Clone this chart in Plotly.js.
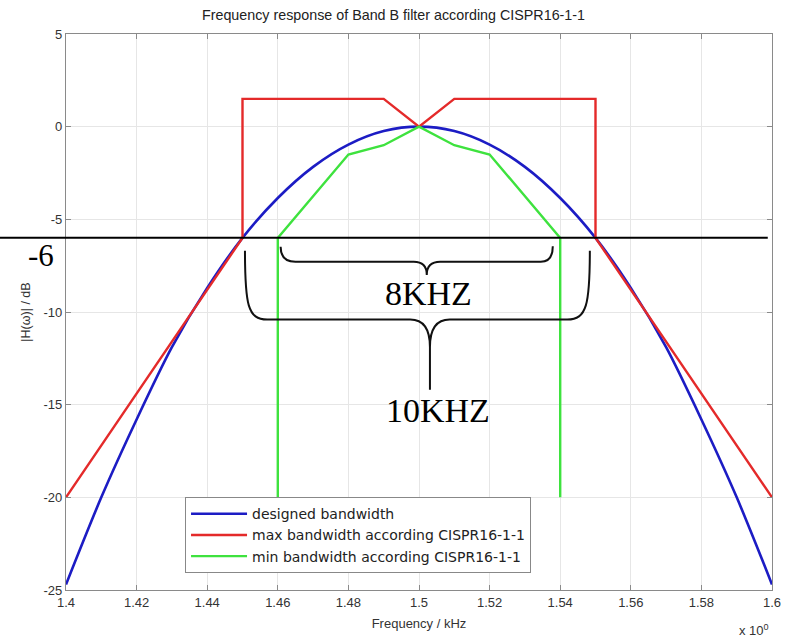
<!DOCTYPE html>
<html>
<head>
<meta charset="utf-8">
<script src="https://cdn.plot.ly/plotly-3.0.1.min.js"></script>
<style>html,body{margin:0;padding:0;background:#fff;}#chart{width:787px;height:639px;}</style>
</head>
<body>
<div id="chart"></div>
<script>
// Designed bandwidth (blue)
const freqDesigned = [1.40,1.41,1.42,1.43,1.44,1.45,1.46,1.47,1.48,1.49,1.50,1.51,1.52,1.53,1.54,1.55,1.56,1.57,1.58,1.59,1.60];
const gainDesigned = [-24.7,-20.0,-15.8,-11.9,-8.7,-6.0,-3.85,-2.17,-0.97,-0.24,0,-0.24,-0.97,-2.17,-3.85,-6.0,-8.7,-11.9,-15.8,-20.0,-24.7];
// Max bandwidth (red)
const freqMax = [1.40,1.45,1.45,1.49,1.50,1.51,1.55,1.55,1.60];
const gainMax = [-20,-6,1.5,1.5,0,1.5,1.5,-6,-20];
// Min bandwidth (green)
const freqMin = [1.46,1.46,1.48,1.49,1.50,1.51,1.52,1.54,1.54];
const gainMin = [-20,-6,-1.5,-1.0,0,-1.0,-1.5,-6,-20];

const seriesNames = ['designed bandwidth','max bandwidth according CISPR16-1-1','min bandwidth according CISPR16-1-1'];
const xTicks = [1.4,1.42,1.44,1.46,1.48,1.5,1.52,1.54,1.56,1.58,1.6];
const xTickText = ['1.4','1.42','1.44','1.46','1.48','1.5','1.52','1.54','1.56','1.58','1.6'];
const yTicks = [-25,-20,-15,-10,-5,0,5];
const yTickText = ['-25','-20','-15','-10','-5','0','5'];
const refLevel = -6;

const traces = [
  {x:freqDesigned,y:gainDesigned,name:seriesNames[0],mode:'lines',line:{color:'#1c1cc4',width:2.6,shape:'spline',smoothing:0.8}},
  {x:freqMax,y:gainMax,name:seriesNames[1],mode:'lines',line:{color:'#e42a2a',width:2.4}},
  {x:freqMin,y:gainMin,name:seriesNames[2],mode:'lines',line:{color:'#3ee23e',width:2.4}}
];

const axisCommon = {showline:true,linecolor:'#8a8a8a',linewidth:1.2,mirror:'ticks',ticks:'inside',ticklen:5,tickcolor:'#8a8a8a',
  showgrid:true,gridcolor:'#e6e6e6',gridwidth:1,zeroline:false,tickfont:{family:'Liberation Sans, Arial',size:13,color:'#333'}};

const layout = {
  width:787,height:639,
  margin:{l:66,r:15,t:34,b:49},
  paper_bgcolor:'#fff',plot_bgcolor:'#fff',
  title:{text:'Frequency response of Band B filter according CISPR16-1-1',font:{family:'Liberation Sans, Arial',size:14.3,color:'#222'},x:0.5,xanchor:'center',y:0.977,yanchor:'middle'},
  xaxis:Object.assign({},axisCommon,{range:[1.4,1.6],tickmode:'array',tickvals:xTicks,ticktext:xTickText,
    title:{text:'Frequency / kHz',font:{family:'Liberation Sans, Arial',size:13,color:'#333'},standoff:10}}),
  yaxis:Object.assign({},axisCommon,{range:[-25,5],tickmode:'array',tickvals:yTicks,ticktext:yTickText,
    title:{text:'|H(ω)| / dB',font:{family:'Liberation Sans, Arial',size:12.5,color:'#333'},standoff:10}}),
  showlegend:true,
  legend:{x:0.1686,y:0.167,xanchor:'left',yanchor:'top',bgcolor:'#fff',bordercolor:'#888',borderwidth:1,
    font:{family:'DejaVu Sans, Liberation Sans',size:14,color:'#222'},tracegroupgap:0,itemwidth:56},
  shapes:[
    {type:'line',xref:'paper',yref:'y',x0:-0.0935,x1:0.994,y0:refLevel,y1:refLevel,line:{color:'#000',width:2},layer:'above'},
    {type:'path',xref:'x',yref:'y',layer:'above',line:{color:'#111',width:2},
     path:'M 1.4608,-6.48 Q 1.4608,-7.29 1.4650,-7.29 L 1.4985,-7.29 Q 1.5022,-7.29 1.5022,-8.0 Q 1.5022,-7.29 1.5060,-7.29 L 1.5345,-7.29 Q 1.5379,-7.29 1.5379,-6.45'},
    {type:'path',xref:'x',yref:'y',layer:'above',line:{color:'#111',width:2},
     path:'M 1.4507,-6.7 C 1.4507,-9.6 1.4515,-10.41 1.4570,-10.41 L 1.4975,-10.41 Q 1.5031,-10.41 1.5031,-11.9 L 1.5031,-14.2 M 1.5031,-11.9 Q 1.5031,-10.41 1.5087,-10.41 L 1.5420,-10.41 C 1.5475,-10.41 1.5484,-9.6 1.5484,-6.7'}
  ],
  annotations:[
    {xref:'paper',yref:'y',x:-0.056,y:-6.95,text:'-6',showarrow:false,font:{family:'Liberation Serif, Times New Roman',size:31,color:'#000'}},
    {xref:'x',yref:'y',x:1.5028,y:-9.0,text:'8KHZ',showarrow:false,font:{family:'Liberation Serif, Times New Roman',size:34,color:'#000'}},
    {xref:'x',yref:'y',x:1.5055,y:-15.3,text:'10KHZ',showarrow:false,font:{family:'Liberation Serif, Times New Roman',size:34,color:'#000'}},
    {xref:'paper',yref:'paper',x:0.998,y:-0.09,xanchor:'right',text:'x 10<sup>0</sup>',showarrow:false,font:{family:'Liberation Sans, Arial',size:13,color:'#333'}}
  ]
};

Plotly.newPlot('chart',traces,layout,{displayModeBar:false,staticPlot:true});
</script>
</body>
</html>
